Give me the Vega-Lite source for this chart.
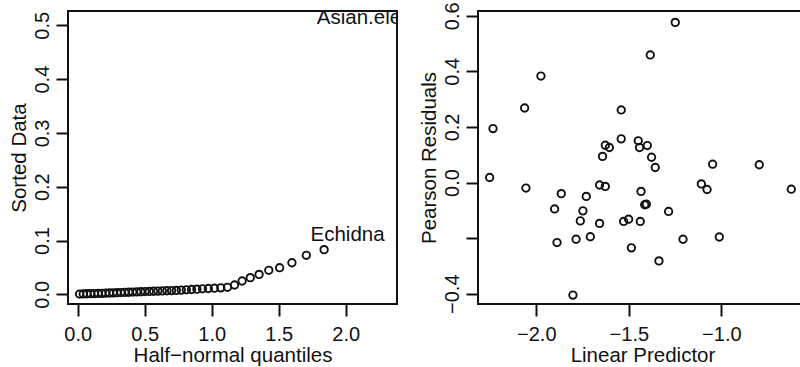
{
  "$schema": "https://vega.github.io/schema/vega-lite/v6.json",
  "background": "white",
  "padding": {"left": 8, "top": 0, "right": 0, "bottom": 0},
  "bounds": "flush",
  "spacing": 81,
  "datasets": {
    "hn": [
      {"q": 0.0138, "val": 0.0005}, {"q": 0.0413, "val": 0.0008}, {"q": 0.0689, "val": 0.0010},
      {"q": 0.0966, "val": 0.0012}, {"q": 0.1243, "val": 0.0014}, {"q": 0.1521, "val": 0.0016},
      {"q": 0.1800, "val": 0.0018}, {"q": 0.2081, "val": 0.0021}, {"q": 0.2363, "val": 0.0024},
      {"q": 0.2648, "val": 0.0027}, {"q": 0.2934, "val": 0.0030}, {"q": 0.3223, "val": 0.0033},
      {"q": 0.3514, "val": 0.0036}, {"q": 0.3809, "val": 0.0039}, {"q": 0.4106, "val": 0.0042},
      {"q": 0.4408, "val": 0.0045}, {"q": 0.4713, "val": 0.0048}, {"q": 0.5024, "val": 0.0051},
      {"q": 0.5339, "val": 0.0054}, {"q": 0.5659, "val": 0.0057}, {"q": 0.5986, "val": 0.0060},
      {"q": 0.6318, "val": 0.0063}, {"q": 0.6658, "val": 0.0066}, {"q": 0.7006, "val": 0.0069},
      {"q": 0.7363, "val": 0.0073}, {"q": 0.7729, "val": 0.0078}, {"q": 0.8106, "val": 0.0084},
      {"q": 0.8495, "val": 0.0090}, {"q": 0.8897, "val": 0.0096}, {"q": 0.9314, "val": 0.0102},
      {"q": 0.9747, "val": 0.0108}, {"q": 1.0201, "val": 0.0114}, {"q": 1.0675, "val": 0.0120},
      {"q": 1.1176, "val": 0.0130}, {"q": 1.1706, "val": 0.0173}, {"q": 1.2271, "val": 0.0247},
      {"q": 1.2879, "val": 0.0310}, {"q": 1.3538, "val": 0.0370}, {"q": 1.4261, "val": 0.0446},
      {"q": 1.5068, "val": 0.0495}, {"q": 1.5987, "val": 0.0587}, {"q": 1.7064, "val": 0.0725},
      {"q": 1.8390, "val": 0.0830}
    ],
    "hnlab": [
      {"q": 2.0141, "val": 0.111, "name": "Echidna"},
      {"q": 2.2905, "val": 0.513, "name": "Asian.elephant"}
    ],
    "resid": [
      {"lp": -1.249, "res": 0.576}, {"lp": -1.384, "res": 0.459}, {"lp": -1.975, "res": 0.383},
      {"lp": -2.063, "res": 0.268}, {"lp": -2.234, "res": 0.194}, {"lp": -2.252, "res": 0.018},
      {"lp": -2.056, "res": -0.020}, {"lp": -1.541, "res": 0.261}, {"lp": -1.541, "res": 0.157},
      {"lp": -1.642, "res": 0.094}, {"lp": -1.627, "res": 0.134}, {"lp": -1.605, "res": 0.126},
      {"lp": -1.449, "res": 0.150}, {"lp": -1.442, "res": 0.126}, {"lp": -1.400, "res": 0.133},
      {"lp": -1.377, "res": 0.091}, {"lp": -1.357, "res": 0.054}, {"lp": -1.047, "res": 0.066},
      {"lp": -0.795, "res": 0.064}, {"lp": -0.622, "res": -0.024}, {"lp": -1.108, "res": -0.005},
      {"lp": -1.077, "res": -0.025}, {"lp": -1.658, "res": -0.009}, {"lp": -1.627, "res": -0.014},
      {"lp": -1.865, "res": -0.040}, {"lp": -1.730, "res": -0.050}, {"lp": -1.901, "res": -0.095},
      {"lp": -1.748, "res": -0.102}, {"lp": -1.762, "res": -0.138}, {"lp": -1.658, "res": -0.147},
      {"lp": -1.434, "res": -0.032}, {"lp": -1.414, "res": -0.080}, {"lp": -1.405, "res": -0.078},
      {"lp": -1.528, "res": -0.140}, {"lp": -1.501, "res": -0.132}, {"lp": -1.438, "res": -0.140},
      {"lp": -1.285, "res": -0.104}, {"lp": -1.888, "res": -0.216}, {"lp": -1.785, "res": -0.204},
      {"lp": -1.708, "res": -0.195}, {"lp": -1.486, "res": -0.235}, {"lp": -1.207, "res": -0.204},
      {"lp": -1.011, "res": -0.196}, {"lp": -1.337, "res": -0.282}, {"lp": -1.802, "res": -0.405}
    ]
  },
  "config": {
    "view": {"stroke": "#111", "strokeWidth": 2},
    "axis": {
      "domain": false, "grid": false,
      "tickColor": "#111", "tickWidth": 2, "tickSize": 12,
      "labelFont": "Liberation Sans", "labelFontSize": 20, "labelColor": "#111",
      "titleFont": "Liberation Sans", "titleFontSize": 20.5, "titleFontWeight": "normal", "titleColor": "#111",
      "labelFlush": false, "labelOverlap": false
    },
    "axisX": {"labelPadding": 8, "titlePadding": 1},
    "axisY": {"labelPadding": 4, "titlePadding": 3, "labelAngle": -90, "labelAlign": "center", "labelBaseline": "bottom"}
  },
  "hconcat": [
    {
      "width": 329, "height": 293,
      "layer": [
        {
          "data": {"name": "hn"},
          "mark": {"type": "point", "shape": "circle", "filled": false, "stroke": "#111", "strokeWidth": 1.9, "size": 55, "opacity": 1},
          "encoding": {
            "x": {"field": "q", "type": "quantitative", "title": "Half−normal quantiles",
                  "scale": {"domain": [-0.0724, 2.383], "nice": false, "zero": false},
                  "axis": {"values": [0, 0.5, 1, 1.5, 2], "format": ".1f"}},
            "y": {"field": "val", "type": "quantitative", "title": "Sorted Data",
                  "scale": {"domain": [-0.018, 0.5266], "nice": false, "zero": false},
                  "axis": {"values": [0, 0.1, 0.2, 0.3, 0.4, 0.5], "format": ".1f"}}
          }
        },
        {
          "data": {"name": "hnlab"},
          "mark": {"type": "text", "font": "Liberation Sans", "fontSize": 20.5, "color": "#111", "align": "center", "baseline": "middle", "clip": true},
          "encoding": {
            "x": {"field": "q", "type": "quantitative"},
            "y": {"field": "val", "type": "quantitative"},
            "text": {"field": "name"}
          }
        }
      ]
    },
    {
      "width": 329, "height": 293,
      "data": {"name": "resid"},
      "mark": {"type": "point", "shape": "circle", "filled": false, "stroke": "#111", "strokeWidth": 1.9, "size": 55, "opacity": 1},
      "encoding": {
        "x": {"field": "lp", "type": "quantitative", "title": "Linear Predictor",
              "scale": {"domain": [-2.315, -0.537], "nice": false, "zero": false},
              "axis": {"values": [-2, -1.5, -1, -0.5], "format": ".1f"}},
        "y": {"field": "res", "type": "quantitative", "title": "Pearson Residuals",
              "scale": {"domain": [-0.437, 0.617], "nice": false, "zero": false},
              "axis": {"values": [-0.4, -0.2, 0, 0.2, 0.4, 0.6], "format": ".1f",
                       "labelExpr": "abs(datum.value + 0.2) < 0.01 ? '' : datum.label"}}
      }
    }
  ]
}
